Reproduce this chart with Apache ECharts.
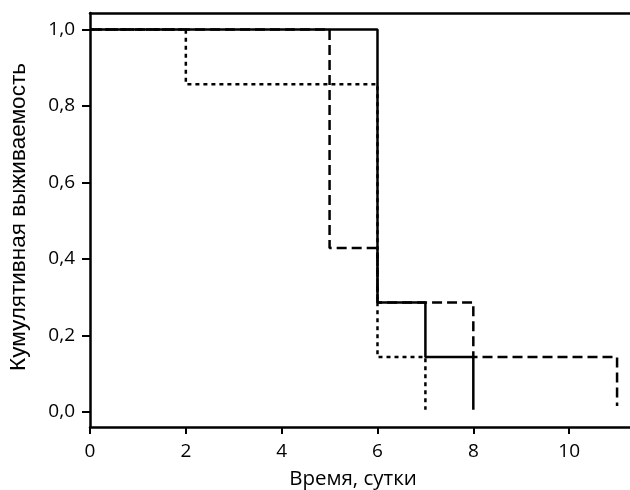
<!DOCTYPE html>
<html>
<head>
<meta charset="utf-8">
<script src="https://cdn.jsdelivr.net/npm/echarts@6/dist/echarts.min.js"></script>
<style>html,body{margin:0;padding:0;background:#fff}#c{width:630px;height:490px}</style>
</head>
<body>
<div id="c"></div>
<script>
// Kaplan–Meier step points [time, survival]
const solidSeries = [[0, 1.0], [6, 0.2857], [7, 0.1429], [8, 0.005]];
const dashedSeries = [[0, 1.0], [5, 0.4286], [6, 0.2857], [8, 0.1429], [11, 0.015]];
const dottedSeries = [[0, 1.0], [2, 0.8571], [6, 0.1429], [7, 0.005]];
const xTicks = [0, 2, 4, 6, 8, 10];
const yTicks = [0, 0.2, 0.4, 0.6, 0.8, 1.0];
const xTitle = 'Время, сутки';
const yTitle = 'Кумулятивная выживаемость';

const chart = echarts.init(document.getElementById('c'), null, {renderer: 'canvas'});
const labelFont = {fontFamily: 'Open Sans', fontSize: 19, color: '#000'};
chart.setOption({
  animation: false,
  grid: {left: 90, right: 0, top: 13, bottom: 63, containLabel: false, outerBoundsMode: 'none'},
  xAxis: [{
    type: 'value', min: 0, max: 11.27,
    axisLine: {onZero: false, lineStyle: {color: '#000', width: 2.5}},
    axisTick: {show: true, length: 7, inside: false, customValues: xTicks, lineStyle: {color: '#000', width: 2}},
    axisLabel: Object.assign({margin: 15, customValues: xTicks, formatter: v => String(v)}, labelFont),
    splitLine: {show: false},
    name: xTitle, nameLocation: 'middle', nameGap: 42,
    nameTextStyle: {fontFamily: 'Open Sans', fontSize: 20.5, color: '#000', padding: [0, 14, 0, 0]}
  }, {
    type: 'value', position: 'top', min: 0, max: 11.27,
    axisLine: {show: true, onZero: false, lineStyle: {color: '#000', width: 2.5}},
    axisTick: {show: false}, axisLabel: {show: false}, splitLine: {show: false}
  }],
  yAxis: {
    type: 'value', min: -0.04, max: 1.0435,
    axisLine: {show: true, onZero: false, lineStyle: {color: '#000', width: 2.5}},
    axisTick: {show: true, length: 8, customValues: yTicks, lineStyle: {color: '#000', width: 2}},
    axisLabel: Object.assign({margin: 15, customValues: yTicks, formatter: v => v.toFixed(1).replace('.', ',')}, labelFont),
    splitLine: {show: false},
    name: yTitle, nameLocation: 'middle', nameGap: 60, nameRotate: 90,
    nameTextStyle: {fontFamily: 'Liberation Sans', fontSize: 22.5, color: '#000', padding: [0, 0, 0, 6]}
  },
  series: [
    {type: 'line', step: 'end', data: dashedSeries, symbol: 'none', z: 2,
     lineStyle: {color: '#000', width: 2.5, type: [10, 5]}},
    {type: 'line', step: 'end', data: dottedSeries, symbol: 'none', z: 3,
     lineStyle: {color: '#000', width: 2.5, type: [4, 4]}},
    {type: 'line', step: 'end', data: solidSeries, symbol: 'none', z: 4,
     lineStyle: {color: '#000', width: 2.5, type: 'solid'}}
  ]
});
</script>
</body>
</html>
